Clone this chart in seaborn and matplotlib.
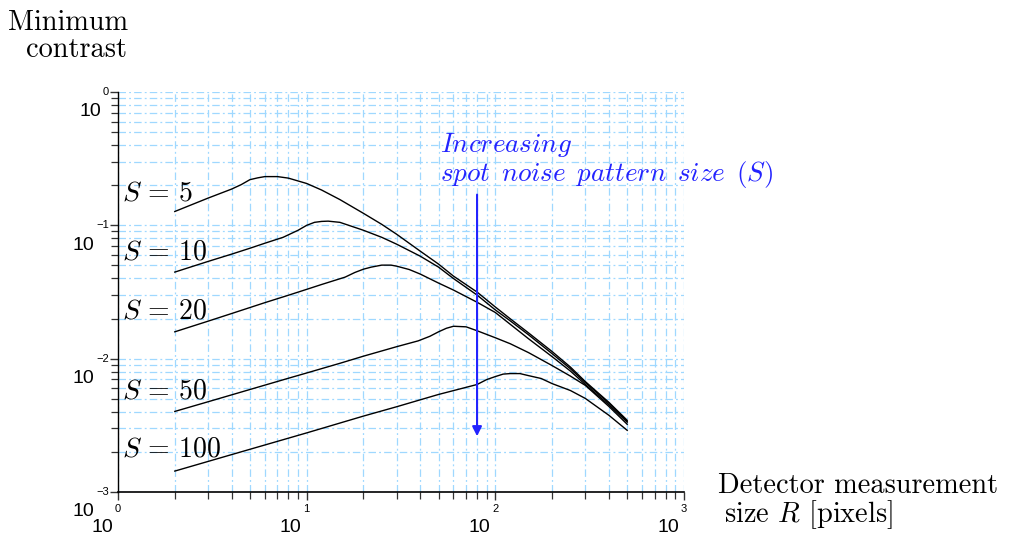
import numpy as np
import pandas as pd
import matplotlib
matplotlib.use("Agg")
import matplotlib.pyplot as plt
import seaborn as sns
from matplotlib.ticker import LogLocator, NullFormatter

# ---------------- data ----------------
R_s5 = [2, 3, 4, 4.5, 5, 5.5, 6, 7, 8, 10, 12, 15, 20, 25, 30, 40, 50, 60, 80, 100, 120, 150, 200, 250, 300, 400, 500]
c_s5 = [0.127, 0.160, 0.187, 0.202, 0.220, 0.227, 0.232, 0.232, 0.226, 0.206, 0.184, 0.156, 0.123, 0.1017,
        0.0857, 0.064, 0.0512, 0.0416, 0.0316, 0.0244, 0.0199, 0.0156, 0.0113, 0.00865, 0.00673, 0.0047, 0.00345]

R_s10 = [2, 3, 4, 5, 6, 7.5, 9, 10, 11, 12, 13, 15, 20, 25, 30, 40, 50, 60, 80, 100, 120, 150, 200, 250, 300, 400, 500]
c_s10 = [0.0446, 0.0536, 0.0608, 0.0673, 0.0734, 0.0813, 0.0918, 0.100, 0.1053, 0.107, 0.1075, 0.1053, 0.0918,
         0.0813, 0.0722, 0.0587, 0.0486, 0.0399, 0.0300, 0.0232, 0.0192, 0.0151, 0.0109, 0.0084, 0.0066, 0.00463, 0.00339]

R_s20 = [2, 3, 4, 6, 8, 10, 12, 16, 18, 20, 22, 25, 28, 30, 35, 40, 50, 60, 80, 100, 120, 150, 200, 250, 300, 400, 500]
c_s20 = [0.0159, 0.0191, 0.0218, 0.0263, 0.0299, 0.0331, 0.0360, 0.0409, 0.0443, 0.0469, 0.0486, 0.0503, 0.0503,
         0.0494, 0.0466, 0.0431, 0.0369, 0.0327, 0.0265, 0.0222, 0.0181, 0.0141, 0.01035, 0.00807, 0.0064, 0.0045, 0.00334]

R_s50 = [2, 3, 5, 8, 10, 15, 20, 30, 39, 45, 50, 55, 60, 70, 80, 100, 120, 150, 200, 250, 300, 400, 500]
c_s50 = [0.00402, 0.00475, 0.00587, 0.00713, 0.00781, 0.00923, 0.01044, 0.0123, 0.0136, 0.01472, 0.0159, 0.0169,
         0.0175, 0.01733, 0.0162, 0.01435, 0.01294, 0.0111, 0.00887, 0.0074, 0.0063, 0.00438, 0.00322]

R_s100 = [2, 3, 5, 10, 20, 30, 50, 80, 90, 100, 110, 120, 135, 150, 175, 200, 250, 300, 400, 500]
c_s100 = [0.001435, 0.001695, 0.00209, 0.002775, 0.00371, 0.00436, 0.00539, 0.0064, 0.00697, 0.00734, 0.00766,
          0.00773, 0.00773, 0.00746, 0.0071, 0.0065, 0.00577, 0.00503, 0.00376, 0.0029]

S_values = [5, 10, 20, 50, 100]
series = [(R_s5, c_s5), (R_s10, c_s10), (R_s20, c_s20), (R_s50, c_s50), (R_s100, c_s100)]

x_exps = [0, 1, 2, 3]
y_exps = [0, -1, -2, -3]

# label anchor positions (layout)
label_pos = [(1.045, 0.1537), (1.045, 0.0557), (1.045, 0.0199), (1.045, 0.00503), (1.045, 0.00186)]

rows = []
for s, (rv, cv) in zip(S_values, series):
    for r, c in zip(rv, cv):
        rows.append({"R": r, "C": c, "S": s})
df = pd.DataFrame(rows)

# ---------------- figure ----------------
plt.rcParams["mathtext.fontset"] = "cm"
W, H = 1012, 541
fig = plt.figure(figsize=(W / 100, H / 100), dpi=100)
ax = fig.add_axes([118 / W, 1 - 492 / H, (684 - 118) / W, (492 - 92) / H])

grid_color = "#9fd8ff"
ax.set_xscale("log")
ax.set_yscale("log")
ax.set_xlim(1, 1000)
ax.set_ylim(1e-3, 1)

sns.lineplot(data=df, x="R", y="C", hue="S", units="S", estimator=None,
             palette=["black"] * len(S_values), legend=False, linewidth=1.0, ax=ax, zorder=3)

ax.set_xlabel("")
ax.set_ylabel("")
ax.xaxis.set_major_locator(LogLocator(base=10, numticks=10))
ax.xaxis.set_minor_locator(LogLocator(base=10, subs=np.arange(2, 10), numticks=20))
ax.yaxis.set_major_locator(LogLocator(base=10, numticks=10))
ax.yaxis.set_minor_locator(LogLocator(base=10, subs=np.arange(2, 10), numticks=20))
ax.xaxis.set_major_formatter(NullFormatter())
ax.xaxis.set_minor_formatter(NullFormatter())
ax.yaxis.set_major_formatter(NullFormatter())
ax.yaxis.set_minor_formatter(NullFormatter())

ax.grid(True, which="both", color=grid_color, linestyle=(0, (6, 2.5, 1.5, 2.5)), linewidth=0.9, zorder=0)
ax.set_axisbelow(True)
for side in ["top", "right"]:
    ax.spines[side].set_visible(False)
ax.spines["left"].set_linewidth(1.0)
ax.spines["bottom"].set_linewidth(1.2)
ax.tick_params(which="major", direction="out", length=6, width=1.0, color="#333333")
ax.tick_params(which="minor", direction="out", length=5, width=0.9, color="#333333")

tick_font = "Liberation Sans"
fig.canvas.draw()
renderer = fig.canvas.get_renderer()

# y tick labels: exponent at the tick, "10" lower-left
for k in y_exps:
    exp_txt = ("\u2212" + str(-k)) if k < 0 else str(k)
    t = ax.annotate(exp_txt, xy=(0, 10.0 ** k), xycoords=("axes fraction", "data"),
                    xytext=(-9, 0), textcoords="offset pixels", ha="right", va="center",
                    fontsize=8, family=tick_font, annotation_clip=False)
    w = t.get_window_extent(renderer).width
    ax.annotate("10", xy=(0, 10.0 ** k), xycoords=("axes fraction", "data"),
                xytext=(-(9 + w + 2), -20), textcoords="offset pixels", ha="right", va="center",
                fontsize=14, family=tick_font, annotation_clip=False)

# x tick labels
for k in x_exps:
    t = ax.annotate(str(k), xy=(10.0 ** k, 0), xycoords=("data", "axes fraction"),
                    xytext=(0, -17), textcoords="offset pixels", ha="center", va="center",
                    fontsize=8, family=tick_font, annotation_clip=False)
    w = t.get_window_extent(renderer).width
    ax.annotate("10", xy=(10.0 ** k, 0), xycoords=("data", "axes fraction"),
                xytext=(-(w / 2 + 2), -36), textcoords="offset pixels", ha="right", va="center",
                fontsize=14, family=tick_font, annotation_clip=False)

# curve labels
for s, (lx, ly) in zip(S_values, label_pos):
    ax.text(lx, ly, r"$S\,=\,%d$" % s, fontsize=20, ha="left", va="baseline", zorder=4)

# axis titles
serif = "cmr10"
fig.text(8 / W, 1 - 30 / H, "Minimum", family=serif, fontsize=20.4, ha="left", va="baseline")
fig.text(26 / W, 1 - 57 / H, "contrast", family=serif, fontsize=20.4, ha="left", va="baseline")
fig.text(718 / W, 1 - 493 / H, "Detector measurement", family=serif, fontsize=20.4, ha="left", va="baseline")
fig.text(724 / W, 1 - 522 / H, r"size $R$ [pixels]", family=serif, fontsize=20.4, ha="left", va="baseline")

# arrow + annotation
blue = "#2323ff"
ax.annotate("", xy=(80, 0.00262), xytext=(80, 0.170),
            arrowprops=dict(arrowstyle="-|>", color=blue, lw=1.5, mutation_scale=14,
                            shrinkA=0, shrinkB=0), zorder=5)
ax.text(51.2, 10 ** (-(152 - 92) / 134), r"$\mathit{Increasing}$", color=blue, fontsize=19.5,
        ha="left", va="baseline", zorder=5)
ax.text(51.2, 10 ** (-(181 - 92) / 134), r"$\mathit{spot\ \,noise\ \,pattern\ \,size\ \,(S)}$", color=blue,
        fontsize=19.5, ha="left", va="baseline", zorder=5)

fig.savefig("out.png", dpi=100)
